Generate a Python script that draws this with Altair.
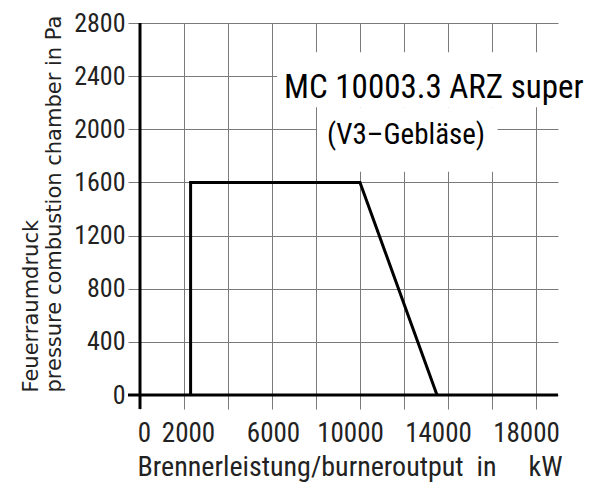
import altair as alt
import pandas as pd

# ---- data ----
x_kw = [2300, 2300, 10000, 13500]
y_pa = [0, 1600, 1600, 0]

x_tick_values = list(range(0, 19001, 1000))
x_label_values = [0, 2000, 6000, 10000, 14000, 18000]
y_tick_values = list(range(0, 2801, 200))
y_label_values = [0, 400, 800, 1200, 1600, 2000, 2400, 2800]

title_lines = ["MC\u00a010003.3\u00a0ARZ\u00a0super", "(V3\u2013Gebläse)"]
x_title = "Brennerleistung/burneroutput\u00a0\u00a0in\u00a0\u00a0\u00a0\u00a0\u00a0kW"
y_title = ["Feuerraumdruck", "pressure combustion chamber in Pa"]

# annotation placement (data units)
box_x0 = [6230, 8050]
box_x1 = [20300, 16250]
box_y0 = [2165, 1680]
box_y1 = [2580, 2165]

NARROW = "Roboto Condensed"
GRID = "#7a7a7a"

df = pd.DataFrame({"kw": x_kw, "pa": y_pa, "i": list(range(len(x_kw)))})
boxes = pd.DataFrame({"x0": box_x0, "x1": box_x1, "y0": box_y0, "y1": box_y1})
one = pd.DataFrame({"a": [0]})

xscale = alt.Scale(domain=[0, 19000], nice=False, zero=False)
yscale = alt.Scale(domain=[0, 2800], nice=False, zero=False)

def label_expr(vals):
    return "indexof([" + ",".join(str(v) for v in vals) + "], datum.value) >= 0 ? datum.label : ''"

x_axis = alt.Axis(
    values=x_tick_values, format="d", labelExpr=label_expr(x_label_values),
    grid=True, gridColor=GRID, gridWidth=1, tickColor=GRID, tickWidth=1, tickSize=14,
    domain=False, labelFont=NARROW, labelFontSize=27, labelColor="#222",
    labelBaseline="alphabetic", labelPadding=32, labelFlush=False, labelOverlap=False,
    labelOffset={"condition": [{"test": "datum.value >= 10000", "value": -10},
                               {"test": "datum.value <= 2000", "value": 4}], "value": 1},
    title=x_title, titleFont=NARROW, titleFontSize=28, titleFontWeight="normal",
    titleColor="#222", titleX=-3, titleY=80, titleAlign="left",
    titleBaseline="alphabetic", titleAnchor="start",
)
y_axis = alt.Axis(
    values=y_tick_values, format="d", labelExpr=label_expr(y_label_values),
    grid=True, gridColor=GRID, gridWidth=1, tickColor=GRID, tickWidth=1, tickSize=12,
    domain=False, labelFont=NARROW, labelFontSize=26, labelColor="#222",
    labelBaseline="middle", labelPadding=3, labelFlush=False, labelOverlap=False,
    title=y_title, titleFont="DejaVu Sans", titleFontSize=21, titleFontWeight="normal",
    titleColor="#222", titleAngle=270, titleAlign="left", titleBaseline="alphabetic",
    titleX=-103, titleY=369, titleLineHeight=23, titleAnchor="start",
)

line = alt.Chart(df).mark_line(color="black", strokeWidth=3).encode(
    x=alt.X("kw:Q", scale=xscale, axis=x_axis),
    y=alt.Y("pa:Q", scale=yscale, axis=y_axis),
    order="i:O",
)

rects = alt.Chart(boxes).mark_rect(color="white").encode(
    x="x0:Q", x2="x1", y="y0:Q", y2="y1"
)

t1 = alt.Chart(one).mark_text(
    text=title_lines[0], font=NARROW, fontSize=33, align="left", baseline="alphabetic", color="black"
).encode(x=alt.datum(6550), y=alt.datum(2238))
t2 = alt.Chart(one).mark_text(
    text=title_lines[1], font=NARROW, fontSize=29, align="center", baseline="alphabetic", color="black"
).encode(x=alt.datum(12090), y=alt.datum(1888))

yrule = alt.Chart(one).mark_rule(color="black", strokeWidth=3).encode(
    x=alt.datum(0), y=alt.value(0), y2=alt.value(386)
)
xrule = alt.Chart(one).mark_rule(color="black", strokeWidth=3).encode(
    y=alt.datum(0), x=alt.value(-12), x2=alt.value(418)
)

chart = alt.layer(rects, line, t1, t2, yrule, xrule).properties(
    width=418, height=372,
    autosize=alt.AutoSizeParams(type="none"),
    padding={"left": 132, "top": 15, "right": 37, "bottom": 88},
    background="white",
).configure_view(stroke=None)

chart.save("out.html", embed_options={"renderer": "svg", "actions": False})
